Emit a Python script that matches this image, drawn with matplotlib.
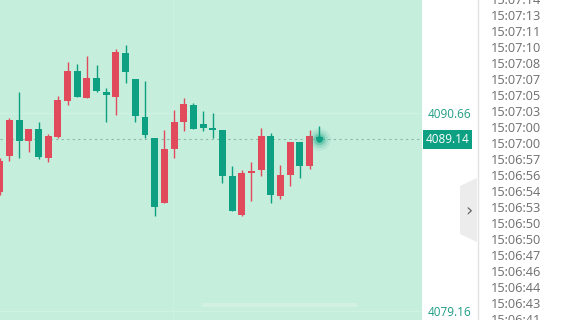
import matplotlib.pyplot as plt
import matplotlib.transforms as mtransforms
from matplotlib.patches import Polygon, Rectangle

# candle data (red = up, green = down)
opens = [4086.09, 4088.18, 4090.25, 4089.06, 4089.73, 4088.06, 4089.26, 4091.37,
         4093.11, 4091.55, 4092.69, 4091.88, 4091.60, 4094.16, 4092.63, 4090.44,
         4089.22, 4085.45, 4088.58, 4090.13, 4091.12, 4090.02, 4089.79, 4089.67,
         4087.00, 4084.75, 4087.19, 4087.35, 4089.34, 4085.85, 4087.07, 4088.99,
         4087.60, 4089.26]
highs = [4088.04, 4090.37, 4091.85, 4089.73, 4090.12, 4089.42, 4091.62, 4093.62,
         4093.49, 4093.97, 4093.45, 4092.09, 4094.36, 4094.61, 4092.63, 4092.53,
         4089.22, 4089.69, 4090.85, 4091.53, 4091.24, 4090.79, 4090.66, 4089.67,
         4087.60, 4087.35, 4087.83, 4089.80, 4089.51, 4087.65, 4088.99, 4088.99,
         4089.69, 4089.90]
lows = [4085.89, 4087.89, 4088.06, 4088.41, 4088.00, 4087.83, 4089.22, 4091.12,
        4091.60, 4091.55, 4091.89, 4090.15, 4090.56, 4092.42, 4090.15, 4089.22,
        4084.69, 4085.45, 4088.06, 4089.61, 4089.75, 4089.63, 4089.22, 4086.61,
        4084.98, 4084.69, 4085.55, 4087.02, 4085.45, 4085.68, 4086.44, 4086.90,
        4087.42, 4089.14]
closes = [4087.87, 4090.25, 4089.06, 4089.73, 4088.12, 4089.31, 4091.41, 4093.11,
          4091.60, 4092.69, 4091.95, 4091.72, 4094.22, 4093.06, 4090.50, 4089.40,
          4085.22, 4088.58, 4090.15, 4091.18, 4089.75, 4089.80, 4089.69, 4087.02,
          4084.98, 4087.19, 4087.23, 4089.34, 4085.91, 4087.06, 4088.99, 4087.60,
          4089.34, 4089.14]

last_price = 4089.14
axis_prices = [4090.66, 4079.16]
times = ["15:07:14", "15:07:13", "15:07:11", "15:07:10", "15:07:08", "15:07:07",
         "15:07:05", "15:07:03", "15:07:00", "15:07:00", "15:06:57", "15:06:56",
         "15:06:54", "15:06:53", "15:06:50", "15:06:50", "15:06:47", "15:06:46",
         "15:06:44", "15:06:43", "15:06:41"]

up_color = "#e14a5a"
down_color = "#0ea082"
bg_color = "#c6eedc"
label_color = "#1f9c85"

W, H = 564, 320
fig = plt.figure(figsize=(W / 100, H / 100), dpi=100)
fig.patch.set_facecolor("white")

ax = fig.add_axes([0, 0, 422 / W, 1])
ax.set_facecolor(bg_color)
for s in ax.spines.values():
    s.set_visible(False)

x = list(range(len(opens)))
for i, o, h, l, c in zip(x, opens, highs, lows, closes):
    color = up_color if c >= o else down_color
    ax.vlines(i, l, h, color=color, linewidth=1.0, zorder=3)
    height = max(abs(c - o), 0.09)
    ax.bar(i, height, bottom=min(o, c), width=0.72, color=color,
           linewidth=0, zorder=4)

# pulse on the live candle
for size, alpha in [(260, 0.08), (150, 0.15), (70, 0.3), (22, 1.0)]:
    ax.scatter(x[-1], last_price, s=size, color=down_color, alpha=alpha,
               linewidths=0, zorder=5)

ax.set_xlim(0.02, 43.62)
ax.set_ylim(4078.64, 4097.22)

# faint grid
for p in axis_prices:
    ax.axhline(p, color="#cff2e2", linewidth=0.8, zorder=1)
ax.axvline(17.9, color="#cdf1e1", linewidth=0.8, zorder=1)

ax.axhline(last_price, color="#8db8a8", linestyle=(0, (2, 3)),
           linewidth=0.8, zorder=2)

ax.set_xticks([])
ax.yaxis.tick_right()
ax.set_yticks(axis_prices)
ax.set_yticklabels([f"{p:.2f}" for p in axis_prices])
ax.tick_params(axis="y", length=0, pad=4, labelcolor=label_color,
               labelsize=8.5)
for t in ax.get_yticklabels():
    t.set_fontfamily("Open Sans")

trans = mtransforms.blended_transform_factory(fig.transFigure, ax.transData)
ax.text(425.5 / W, last_price, f"{last_price:.2f}", transform=trans,
        ha="left", va="center", color="white", fontsize=8.5,
        fontfamily="Open Sans", clip_on=False, zorder=6,
        bbox=dict(boxstyle="square,pad=0.25", fc=down_color, ec="none"))

# blurred watermark
fig.patches.append(Rectangle((202 / W, 1 - 307 / H), 155 / W, 4 / H,
                             transform=fig.transFigure, color="white",
                             alpha=0.22, linewidth=0))

# side panel
fig.add_artist(plt.Line2D([477.5 / W, 477.5 / W], [0, 1], color="#e2e2e2",
                          linewidth=1, transform=fig.transFigure))
tab = [(460, 186), (477, 178), (477, 242), (460, 234)]
fig.patches.append(Polygon([(px / W, 1 - py / H) for px, py in tab],
                           closed=True, transform=fig.transFigure,
                           fc="#ececec", ec="none"))
fig.text(468.5 / W, 1 - 211 / H, "›", ha="center", va="center",
         color="#666666", fontsize=13, fontfamily="DejaVu Sans")

for k, t in enumerate(times):
    fig.text(490.5 / W, 1 - (0.7 + 16 * k) / H, t, ha="left", va="center",
             color="#6e6e6e", fontsize=9.2, fontfamily="Open Sans")

fig.savefig("out.png", dpi=100)
